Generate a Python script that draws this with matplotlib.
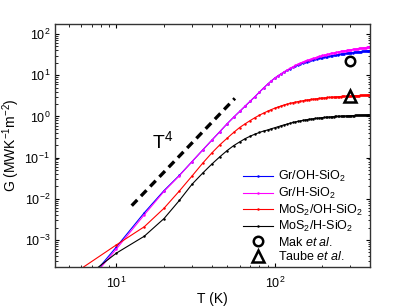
import numpy as np
import matplotlib
matplotlib.use("Agg")
import matplotlib.pyplot as plt

plt.rcParams['font.family'] = ['Liberation Sans', 'DejaVu Sans']
plt.rcParams['mathtext.fontset'] = 'custom'
plt.rcParams['mathtext.rm'] = 'Liberation Sans'
plt.rcParams['mathtext.it'] = 'Liberation Sans:italic'

# Temperature grid (K)
T = list(range(5, 405, 5))

# log10 of G (MW K^-1 m^-2)
logG_gr_oh = [-4.55, -3.17, -2.34, -1.80, -1.43, -1.10, -0.82, -0.58, -0.37, -0.18,
              -0.02, 0.12, 0.25, 0.37, 0.48, 0.59, 0.69, 0.78, 0.86, 0.93,
              0.988, 1.035, 1.082, 1.12, 1.157, 1.19, 1.222, 1.25, 1.27, 1.295,
              1.313, 1.33, 1.346, 1.358, 1.37, 1.385, 1.395, 1.41, 1.418, 1.43,
              1.438, 1.446, 1.454, 1.462, 1.468, 1.474, 1.481, 1.486, 1.492, 1.50,
              1.505, 1.51, 1.515, 1.52, 1.524, 1.528, 1.532, 1.536, 1.540, 1.543,
              1.546, 1.549, 1.552, 1.555, 1.558, 1.561, 1.564, 1.567, 1.570, 1.573,
              1.576, 1.578, 1.581, 1.584, 1.586, 1.589, 1.591, 1.594, 1.596, 1.598]
logG_gr_h = [-4.60, -3.22, -2.39, -1.82, -1.44, -1.10, -0.82, -0.58, -0.37, -0.18,
             -0.02, 0.12, 0.25, 0.37, 0.48, 0.59, 0.69, 0.78, 0.86, 0.93,
             0.99, 1.04, 1.09, 1.13, 1.17, 1.205, 1.24, 1.27, 1.295, 1.32,
             1.34, 1.36, 1.38, 1.395, 1.41, 1.425, 1.44, 1.455, 1.468, 1.48,
             1.49, 1.50, 1.51, 1.52, 1.528, 1.536, 1.544, 1.551, 1.558, 1.565,
             1.571, 1.577, 1.583, 1.589, 1.594, 1.599, 1.604, 1.609, 1.614, 1.618,
             1.622, 1.626, 1.630, 1.634, 1.638, 1.642, 1.646, 1.649, 1.652, 1.655,
             1.659, 1.662, 1.665, 1.668, 1.671, 1.674, 1.677, 1.680, 1.683, 1.686]
logG_mos2_oh = [-3.90, -3.12, -2.68, -2.23, -1.81, -1.45, -1.14, -0.89, -0.69, -0.53,
                -0.39, -0.27, -0.18, -0.10, -0.03, 0.03, 0.08, 0.125, 0.165, 0.20,
                0.23, 0.255, 0.28, 0.30, 0.318, 0.333, 0.347, 0.36, 0.37, 0.38,
                0.39, 0.40, 0.407, 0.414, 0.42, 0.426, 0.432, 0.437, 0.442, 0.447,
                0.451, 0.455, 0.459, 0.462, 0.465, 0.468, 0.471, 0.474, 0.476, 0.479,
                0.481, 0.483, 0.485, 0.487, 0.489, 0.491, 0.493, 0.494, 0.496, 0.497,
                0.499, 0.500, 0.501, 0.503, 0.504, 0.505, 0.506, 0.507, 0.508, 0.509,
                0.510, 0.511, 0.512, 0.513, 0.514, 0.515, 0.516, 0.517, 0.518, 0.519]
logG_mos2_h = [-4.22, -3.32, -2.91, -2.48, -2.04, -1.65, -1.38, -1.16, -0.98, -0.83,
               -0.71, -0.62, -0.54, -0.48, -0.43, -0.39, -0.355, -0.33, -0.30, -0.275,
               -0.25, -0.225, -0.205, -0.185, -0.165, -0.148, -0.133, -0.12, -0.108, -0.097,
               -0.086, -0.077, -0.069, -0.062, -0.055, -0.049, -0.043, -0.038, -0.033, -0.029,
               -0.025, -0.021, -0.017, -0.014, -0.011, -0.008, -0.005, -0.002, 0.000, 0.002,
               0.004, 0.006, 0.008, 0.010, 0.011, 0.013, 0.014, 0.016, 0.017, 0.018,
               0.019, 0.020, 0.021, 0.022, 0.023, 0.024, 0.025, 0.026, 0.027, 0.028,
               0.029, 0.030, 0.030, 0.031, 0.032, 0.033, 0.033, 0.034, 0.035, 0.035]

series_labels = ['Gr/OH-SiO$_2$', 'Gr/H-SiO$_2$', 'MoS$_2$/OH-SiO$_2$', 'MoS$_2$/H-SiO$_2$']
series_colors = ['#0000ff', '#ff00ff', '#ff0000', '#000000']

# Experimental points
mak_T, mak_G = [300], [22.4]
taube_T, taube_G = [300], [3.2]

# T^4 guide line
guide_T = [12.5, 56]
guide_G = [0.0068, 2.74]

fig = plt.figure(figsize=(4.09, 3.08), dpi=100)
ax = fig.add_axes([0.1345, 0.133, 0.7705, 0.789])

for lg, lab, col in zip([logG_gr_oh, logG_gr_h, logG_mos2_oh, logG_mos2_h],
                        series_labels, series_colors):
    ax.plot(T, 10 ** np.array(lg), '-', color=col, lw=0.8, marker='o',
            markersize=1.8, markeredgewidth=0, label=lab)

ax.plot(mak_T, mak_G, 'o', mfc='none', mec='black', mew=1.8, ms=6.8,
        label='Mak $\\it{et}$ $\\it{al.}$')
ax.plot(taube_T, taube_G, '^', mfc='none', mec='black', mew=1.8, ms=8,
        label='Taube $\\it{et}$ $\\it{al.}$')

ax.plot(guide_T, guide_G, color='black', lw=2.4, dashes=(2.4, 1.6))
ax.text(16.8, 0.25, 'T$^4$', fontsize=14, ha='left', va='center')

ax.set_xscale('log')
ax.set_yscale('log')
ax.set_xlim(4.1, 400)
ax.set_ylim(2.2e-4, 175)

ax.tick_params(which='both', direction='in', top=True, right=True, labelsize=9)
ax.tick_params(axis='x', which='major', pad=6)
ax.tick_params(which='major', length=3, width=0.8)
ax.tick_params(which='minor', length=1.8, width=0.6)
for s in ax.spines.values():
    s.set_linewidth(1.0)
    s.set_color('#333333')

ax.set_xlabel('T (K)', fontsize=10, labelpad=1)
ax.set_ylabel('G (MWK$^{-1}$m$^{-2}$)', fontsize=10, labelpad=2)

ax.legend(loc='lower right', bbox_to_anchor=(1.0, -0.015), frameon=False,
          fontsize=9, handlelength=2.4, handletextpad=0.4, labelspacing=0.12,
          borderaxespad=0.2)

fig.savefig('out.png', dpi=100)
